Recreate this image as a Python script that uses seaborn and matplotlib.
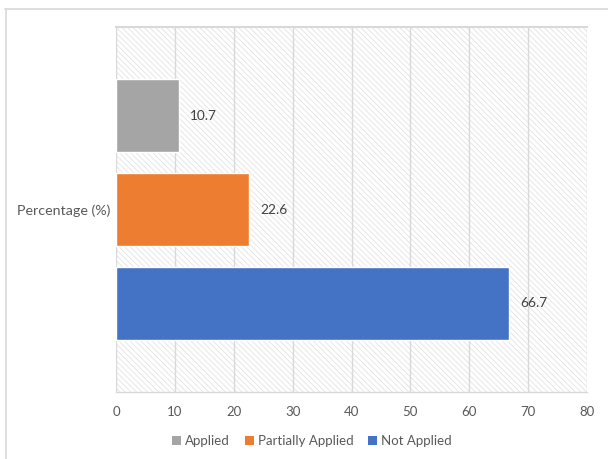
import matplotlib
matplotlib.use("Agg")
import matplotlib.pyplot as plt
import seaborn as sns
import pandas as pd
from matplotlib.patches import Rectangle
from matplotlib.lines import Line2D

categories = ["Percentage (%)"]
series = ["Applied", "Partially Applied", "Not Applied"]
values = [10.7, 22.6, 66.7]
colors = ["#A5A5A5", "#ED7D31", "#4472C4"]
xticks = [0, 10, 20, 30, 40, 50, 60, 70, 80]

df = pd.DataFrame({"cat": categories * len(series), "series": series, "value": values})

sns.set_theme(style="white")
plt.rcParams["font.family"] = ["Lato", "DejaVu Sans"]
plt.rcParams["hatch.linewidth"] = 0.6

fig = plt.figure(figsize=(6.08, 4.59), dpi=100)
ax = fig.add_axes([116/608, 1-392/459, (587-116)/608, (392-27)/459])

# hatched plot-area background
bg = Rectangle((0, 0), 1, 1, transform=ax.transAxes, facecolor="white",
               edgecolor="#e3e3e3", hatch="\\" * 6, linewidth=0, zorder=0)
ax.add_patch(bg)

sns.barplot(data=df, y="cat", x="value", hue="series", hue_order=series,
            palette=colors, orient="h", width=0.7726, gap=0.223,
            saturation=1, ax=ax, legend=False, zorder=3)

ax.set_xlim(0, 80)
ax.set_xticks(xticks)
ax.set_xticklabels([str(t) for t in xticks])
ax.set_xlabel("")
ax.set_ylabel("")
ax.grid(axis="x", color="#d9d9d9", linewidth=1.0, zorder=1)
ax.set_axisbelow(True)
ax.tick_params(axis="x", length=0, pad=10, labelsize=9.5, labelcolor="#595959")
ax.tick_params(axis="y", length=0, pad=4, labelsize=10.3, labelcolor="#595959")

for s in ["left", "right"]:
    ax.spines[s].set_visible(False)
ax.spines["top"].set_color("#d9d9d9")
ax.spines["top"].set_linewidth(1.5)
ax.spines["bottom"].set_color("#d9d9d9")
ax.spines["bottom"].set_linewidth(1.0)

for cont in ax.containers:
    ax.bar_label(cont, fmt="%.1f", padding=8, fontsize=9.8, color="#404040")

handles = [Rectangle((0, 0), 1, 1, facecolor=c, edgecolor="none") for c in colors]
fig.legend(handles, series, loc="center", bbox_to_anchor=(0.513, 1-441/459), ncol=3,
           frameon=False, fontsize=9.5, handlelength=0.7, handleheight=0.7,
           handletextpad=0.3, columnspacing=1.1, labelcolor="#595959")

# outer chart border lines
fig.add_artist(Line2D([5/608, 1], [1-9/459, 1-9/459], transform=fig.transFigure,
                      color="#d9d9d9", linewidth=1.2))
fig.add_artist(Line2D([5.5/608, 5.5/608], [0, 1-9/459], transform=fig.transFigure,
                      color="#d9d9d9", linewidth=1.2))

fig.savefig("out.png", dpi=100)
